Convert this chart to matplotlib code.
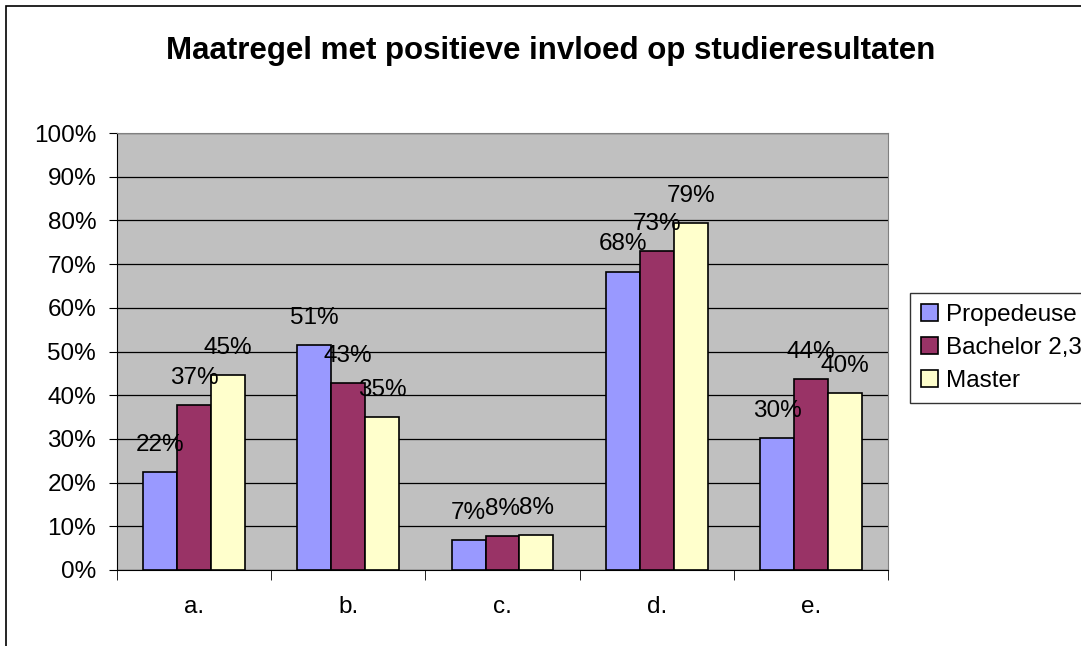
import numpy as np
import matplotlib
matplotlib.use("Agg")
import matplotlib.pyplot as plt
from matplotlib.patches import Rectangle

plt.rcParams["font.family"] = ["Liberation Sans", "DejaVu Sans"]

categories = ["a.", "b.", "c.", "d.", "e."]
series_names = ["Propedeuse", "Bachelor 2,3", "Master"]
propedeuse = [22.4, 51.4, 6.9, 68.3, 30.3]
bachelor = [37.7, 42.7, 7.7, 72.9, 43.6]
master = [44.6, 35.0, 8.1, 79.4, 40.4]
labels_prop = ["22%", "51%", "7%", "68%", "30%"]
labels_bach = ["37%", "43%", "8%", "73%", "44%"]
labels_mast = ["45%", "35%", "8%", "79%", "40%"]
colors = ["#9999FF", "#993366", "#FFFFCC"]

W, H = 1081, 646
fig = plt.figure(figsize=(W / 100, H / 100), dpi=100)
fig.patch.set_facecolor("white")

# chart area border (right and bottom run off the image)
fig.patches.append(Rectangle((6 / W, -0.2), 1.5, 1.2 - 6 / H, transform=fig.transFigure,
                             fill=False, edgecolor="black", linewidth=1.2))

ax = fig.add_axes([117 / W, 1 - 570 / H, (888 - 117) / W, (570 - 133) / H])
ax.set_facecolor("#C0C0C0")

x = np.arange(len(categories))
bw = 0.22
series = [propedeuse, bachelor, master]
labels = [labels_prop, labels_bach, labels_mast]
for i, (vals, labs) in enumerate(zip(series, labels)):
    pos = x + (i - 1) * bw
    ax.bar(pos, vals, width=bw, color=colors[i], edgecolor="black", linewidth=1.2,
           label=series_names[i], zorder=3)
    for px, v, t in zip(pos, vals, labs):
        ax.annotate(t, (px, v), xytext=(0, 19.5), textcoords="offset points",
                    ha="center", va="center", fontsize=17.5, zorder=4)

ax.set_xlim(-0.5, len(categories) - 0.5)
ax.set_ylim(0, 100)
ax.set_yticks(np.arange(0, 101, 10))
ax.set_yticklabels([f"{v}%" for v in range(0, 101, 10)], fontsize=17.5)
ax.yaxis.grid(True, color="black", linewidth=0.9, zorder=0)
ax.set_axisbelow(True)

ax.set_xticks(x)
ax.set_xticklabels(categories, fontsize=17.5)
ax.tick_params(axis="x", length=0, pad=19)
ax.set_xticks(np.arange(-0.5, len(categories)), minor=True)
ax.tick_params(axis="x", which="minor", length=7, direction="out")
ax.tick_params(axis="y", length=6, direction="out", pad=9)

for s in ["left", "bottom"]:
    ax.spines[s].set_color("black")
for s in ["top", "right"]:
    ax.spines[s].set_color("#808080")

fig.text(551 / W, 1 - 51 / H, "Maatregel met positieve invloed op studieresultaten",
         ha="center", va="center", fontsize=22.5, fontweight="bold")

leg = fig.legend(loc="center left", bbox_to_anchor=(910 / W, 1 - 348 / H),
                 fontsize=17.5, frameon=True, fancybox=False, edgecolor="black",
                 handlelength=0.7, handleheight=0.7, handletextpad=0.35,
                 borderpad=0.45, labelspacing=0.45, borderaxespad=0)
leg.get_frame().set_linewidth(1.0)

fig.savefig("out.png", dpi=100)
